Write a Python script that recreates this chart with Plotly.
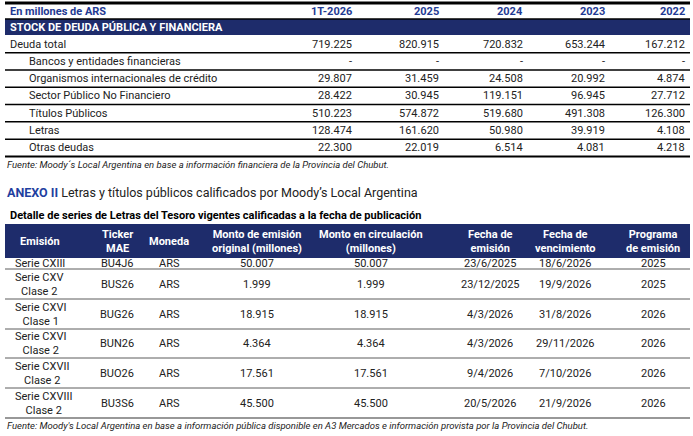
import plotly.graph_objects as go

# --- data ---
years = ["1T-2026", "2025", "2024", "2023", "2022"]
debt_rows = ["Deuda total", "Bancos y entidades financieras", "Organismos internacionales de crédito",
             "Sector Público No Financiero", "Títulos Públicos", "Letras", "Otras deudas"]
debt_vals = [
    ["719.225", "820.915", "720.832", "653.244", "167.212"],
    ["-", "-", "-", "-", "-"],
    ["29.807", "31.459", "24.508", "20.992", "4.874"],
    ["28.422", "30.945", "119.151", "96.945", "27.712"],
    ["510.223", "574.872", "519.680", "491.308", "126.300"],
    ["128.474", "161.620", "50.980", "39.919", "4.108"],
    ["22.300", "22.019", "6.514", "4.081", "4.218"],
]
letras_headers = ["Emisión", "Ticker<br>MAE", "Moneda", "Monto de emisión<br>original (millones)",
                  "Monto en circulación<br>(millones)", "Fecha de<br>emisión", "Fecha de<br>vencimiento",
                  "Programa<br>de emisión"]
emision = ["Serie CXIII", "Serie CXV<br>Clase 2", "Serie CXVI<br>Clase 1", "Serie CXVI<br>Clase 2",
           "Serie CXVII<br>Clase 2", "Serie CXVIII<br>Clase 2"]
ticker = ["BU4J6", "BUS26", "BUG26", "BUN26", "BUO26", "BU3S6"]
moneda = ["ARS"] * 6
monto_orig = ["50.007", "1.999", "18.915", "4.364", "17.561", "45.500"]
monto_circ = ["50.007", "1.999", "18.915", "4.364", "17.561", "45.500"]
fecha_em = ["23/6/2025", "23/12/2025", "4/3/2026", "4/3/2026", "9/4/2026", "20/5/2026"]
fecha_venc = ["18/6/2026", "19/9/2026", "31/8/2026", "29/11/2026", "7/10/2026", "21/9/2026"]
programa = ["2025", "2025", "2026", "2026", "2026", "2026"]

NAVY = "#1e2c6b"
TXT = "#222222"
FONT = "Roboto"

fig = go.Figure()
shapes, ann = [], []

def text(x, y, t, size=11, color=TXT, anchor="left", bold=False, italic=False):
    if bold:
        t = "<b>" + t + "</b>"
    if italic:
        t = "<i>" + t + "</i>"
    ann.append(dict(x=x, y=y, text=t, showarrow=False, xanchor=anchor, yanchor="middle",
                    font=dict(family=FONT, size=size, color=color), xref="x", yref="y"))

def hline(y, w=1, color="black", x0=5, x1=690):
    shapes.append(dict(type="line", x0=x0, x1=x1, y0=y, y1=y, line=dict(color=color, width=w), xref="x", yref="y"))

# --- table 1 ---
col_right = [354, 441, 525, 607, 687]
hline(3, 3)
text(8, 11, "En millones de ARS", color="#1f3a93", bold=True)
for x, yname in zip(col_right, years):
    text(x, 11, yname, color="#1f3a93", bold=True, anchor="right")
shapes.append(dict(type="rect", x0=5, x1=690, y0=19, y1=35, fillcolor=NAVY, line_width=0, xref="x", yref="y"))
text(8, 27, "STOCK DE DEUDA PÚBLICA Y FINANCIERA", color="white", bold=True)
hline(19, 1.5)
row_h = 17.3
for i, (name, vals) in enumerate(zip(debt_rows, debt_vals)):
    yc = 44 + i * row_h
    text(8 if i == 0 else 27, yc, name)
    for x, v in zip(col_right, vals):
        text(x, yc, v, anchor="right")
    hline(yc + row_h / 2, 2 if i == len(debt_rows) - 1 else 1.5)
text(5, 164, "Fuente: Moody´s Local Argentina en base a información financiera de la Provincia del Chubut.",
     size=9.5, italic=True)

# --- anexo ---
ann.append(dict(x=5, y=192, showarrow=False, xanchor="left", yanchor="middle", xref="x", yref="y",
                text="<b><span style='color:#1f3fa0'>ANEXO II</span></b> Letras y títulos públicos calificados por Moody’s Local Argentina",
                font=dict(family=FONT, size=12.5, color=TXT)))
text(8, 215, "Detalle de series de Letras del Tesoro vigentes calificadas a la fecha de publicación",
     size=11, color="black", bold=True)

# --- table 2 ---
shapes.append(dict(type="rect", x0=5, x1=690, y0=224, y1=258, fillcolor=NAVY, line_width=0, xref="x", yref="y"))
centers = [40, 117, 169, 257, 371, 490, 565, 653]
for x, h in zip(centers, letras_headers):
    text(x, 241, h, color="white", bold=True, anchor="center")
bounds = [258, 269, 299, 329, 358, 388, 418]
cols = [ticker, moneda, monto_orig, monto_circ, fecha_em, fecha_venc, programa]
for i in range(len(emision)):
    yc = (bounds[i] + bounds[i + 1]) / 2
    text(13, yc, emision[i])
    for x, col in zip(centers[1:], cols):
        text(x, yc, col[i], anchor="center")
    hline(bounds[i + 1], 1.2 if i == len(emision) - 1 else 0.8, "#333333")
text(5, 425, "Fuente: Moody's Local Argentina en base a información pública disponible en A3 Mercados e información provista por la Provincia del Chubut.",
     size=9.5, italic=True)

fig.update_layout(width=693, height=436, margin=dict(l=0, r=0, t=0, b=0), autosize=False,
                  paper_bgcolor="white", plot_bgcolor="white", shapes=shapes, annotations=ann,
                  xaxis=dict(range=[0, 693], visible=False, fixedrange=True),
                  yaxis=dict(range=[436, 0], visible=False, fixedrange=True),
                  showlegend=False)
fig.write_html("out.html", config={"responsive": False, "displayModeBar": False})

# drop the default page margin so the figure sits at the window's corner
with open("out.html", encoding="utf-8") as f:
    page = f.read()
page = page.replace("<body>", "<body style=\"margin:0;overflow:hidden\">", 1)
with open("out.html", "w", encoding="utf-8") as f:
    f.write(page)
